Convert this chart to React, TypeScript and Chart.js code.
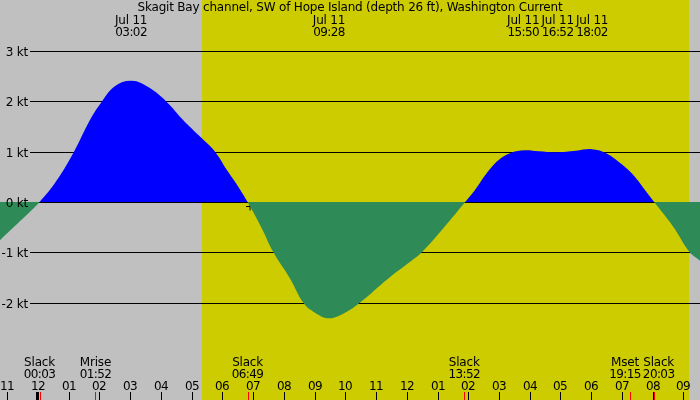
import React, { useEffect, useRef } from "react";
import { Chart, registerables } from "chart.js";

Chart.register(...registerables);

// ---- data (hours since midnight Jul 11, current in knots) ----
const hours = [
  -1.24, -0.6, 0.05, 0.6, 1.17, 1.69, 2.07, 2.5, 3.05, 3.6, 4.19, 4.72, 5.27,
  5.76, 6.14, 6.5, 6.82, 7.28, 7.66, 8.2, 8.63, 8.96, 9.47, 10.05, 10.48, 11.4,
  12.11, 12.49, 13.19, 13.9, 14.22, 14.6, 14.98, 15.4, 15.83, 16.3, 16.87, 17.5,
  18.03, 18.45, 18.83, 19.32, 19.75, 20.05, 20.67, 21.21, 21.55,
];
const speeds = [
  -0.76, -0.39, 0, 0.42, 1.0, 1.63, 1.99, 2.3, 2.41, 2.28, 1.99, 1.63, 1.3,
  1.0, 0.64, 0.32, 0, -0.52, -1.0, -1.52, -2.0, -2.18, -2.31, -2.18, -2.0, -1.52,
  -1.19, -1.0, -0.52, 0, 0.24, 0.57, 0.83, 0.98, 1.03, 1.01, 0.99, 1.02,
  1.05, 0.98, 0.83, 0.57, 0.24, 0, -0.49, -1.0, -1.17,
];

const title =
  "Skagit Bay channel, SW of Hope Island (depth 26 ft), Washington Current";

const speedTicks = [3, 2, 1, 0, -1, -2];
const speedTickLabels = ["3 kt", "2 kt", "1 kt", "0 kt", "-1 kt", "-2 kt"];

const hourTickValues = [
  -1, 0, 1, 2, 3, 4, 5, 6, 7, 8, 9, 10, 11, 12, 13, 14, 15, 16, 17, 18, 19, 20, 21,
];
const hourTickLabels = [
  "11", "12", "01", "02", "03", "04", "05", "06", "07", "08", "09", "10", "11",
  "12", "01", "02", "03", "04", "05", "06", "07", "08", "09",
];
const dayBoundaries = [0];

const peakTimes = [3.03, 9.47, 15.83, 16.87, 18.03];
const peakDates = ["Jul 11", "Jul 11", "Jul 11", "Jul 11", "Jul 11"];
const peakLabels = ["03:02", "09:28", "15:50", "16:52", "18:02"];

const eventTimes = [0.05, 1.87, 6.82, 13.87, 19.25, 20.05];
const eventNames = ["Slack", "Mrise", "Slack", "Slack", "Mset", "Slack"];
const eventLabels = ["00:03", "01:52", "06:49", "13:52", "19:15", "20:03"];

const daylight = [5.34, 21.18]; // sunrise, sunset
const crossHour = [6.9];
const crossSpeed = [-0.09];

const xMin = -1.237;
const xMax = 21.542;
const pxPerKt = 50.3;
const zeroRow = 202;
const canvasH = 400;

const FONT = '12px "DejaVu Sans"';

function spread(centers: number[], widths: number[], gap: number) {
  const c = centers.slice();
  for (let iter = 0; iter < 50; iter++) {
    let moved = false;
    for (let i = 0; i < c.length - 1; i++) {
      const need = (widths[i] + widths[i + 1]) / 2 + gap;
      const d = c[i + 1] - c[i];
      if (d < need - 0.01) {
        const s = (need - d) / 2;
        c[i] -= s;
        c[i + 1] += s;
        moved = true;
      }
    }
    if (!moved) break;
  }
  return c;
}

function setSpacing(ctx: any, s: string) {
  ctx.letterSpacing = /^[0-9:]+$/.test(s) ? "-0.6px" : "-0.2px";
}

function text(ctx: any, s: string, x: number, y: number) {
  setSpacing(ctx, s);
  ctx.fillText(s, x, y);
}

function width(ctx: any, s: string) {
  setSpacing(ctx, s);
  return ctx.measureText(s).width;
}

const tidePlugin = {
  id: "tideDecor",
  beforeDraw(chart: any) {
    const { ctx } = chart;
    const xs = chart.scales.x;
    ctx.save();
    ctx.fillStyle = "#c0c0c0";
    ctx.fillRect(0, 0, chart.width, chart.height);
    const x0 = Math.round(xs.getPixelForValue(daylight[0]));
    const x1 = Math.round(xs.getPixelForValue(daylight[1]));
    ctx.fillStyle = "#cccc00";
    ctx.fillRect(x0, 0, x1 - x0, chart.height);
    ctx.restore();
  },
  beforeDatasetsDraw(chart: any) {
    const { ctx } = chart;
    const ys = chart.scales.y;
    ctx.save();
    ctx.fillStyle = "#000";
    speedTicks.forEach((v) => {
      const y = Math.round(ys.getPixelForValue(v));
      ctx.fillRect(30, y, chart.width - 30, 1);
    });
    ctx.restore();
  },
  afterDatasetsDraw(chart: any) {
    const { ctx } = chart;
    const xs = chart.scales.x;
    const ys = chart.scales.y;
    ctx.save();
    ctx.font = FONT;
    ctx.fillStyle = "#000";
    ctx.textBaseline = "alphabetic";

    // title
    ctx.textAlign = "center";
    text(ctx, title, chart.width / 2, 11);

    // speed labels
    ctx.textAlign = "right";
    speedTicks.forEach((v, i) => {
      const y = Math.round(ys.getPixelForValue(v));
      text(ctx, speedTickLabels[i], 28, y + 5);
    });

    // peak labels (top)
    ctx.textAlign = "center";
    const pw = peakTimes.map((_, i) =>
      Math.max(width(ctx, peakDates[i]), width(ctx, peakLabels[i]))
    );
    const pc = spread(peakTimes.map((t) => xs.getPixelForValue(t)), pw, 2);
    pc.forEach((x, i) => {
      text(ctx, peakDates[i], x, 24);
      text(ctx, peakLabels[i], x, 36);
    });

    // event labels (bottom)
    const ew = eventTimes.map((_, i) =>
      Math.max(width(ctx, eventNames[i]), width(ctx, eventLabels[i]))
    );
    const ec = spread(eventTimes.map((t) => xs.getPixelForValue(t)), ew, 2);
    ec.forEach((x, i) => {
      text(ctx, eventNames[i], x, 366);
      text(ctx, eventLabels[i], x, 378);
    });

    // hour labels and ticks
    hourTickValues.forEach((h, i) => {
      const x = Math.round(xs.getPixelForValue(h));
      text(ctx, hourTickLabels[i], x, 390);
      if (dayBoundaries.includes(h)) {
        ctx.fillRect(x - 2, 392, 3, 8);
      } else {
        ctx.fillRect(x, 392, 1, 8);
      }
    });

    // event ticks
    ctx.fillStyle = "#ff0000";
    eventTimes.forEach((t) => {
      const x = Math.round(xs.getPixelForValue(t));
      ctx.fillRect(x, 392, 1, 8);
    });
    ctx.restore();
  },
};

export default function App() {
  const ref = useRef<HTMLCanvasElement | null>(null);
  useEffect(() => {
    const canvas = ref.current;
    if (!canvas) return;
    const chart = new Chart(canvas, {
      type: "line",
      data: {
        datasets: [
          {
            type: "line",
            data: hours.map((h, i) => ({ x: h, y: speeds[i] })),
            borderWidth: 0,
            borderColor: "rgba(0,0,0,0)",
            pointRadius: 0,
            tension: 0.4,
            fill: { target: "origin", above: "#0000ff", below: "#2e8b57" },
          } as any,
          {
            type: "scatter",
            data: crossHour.map((h, i) => ({ x: h, y: crossSpeed[i] })),
            pointStyle: "cross",
            pointRadius: 4,
            borderColor: "#000",
            backgroundColor: "#000",
            borderWidth: 1,
            showLine: false,
          } as any,
        ],
      },
      options: {
        animation: false,
        responsive: false,
        devicePixelRatio: 1,
        events: [],
        layout: { padding: 0, autoPadding: false },
        plugins: { legend: { display: false }, tooltip: { enabled: false }, title: { display: false } },
        scales: {
          x: { type: "linear", min: xMin, max: xMax, display: false },
          y: {
            type: "linear",
            min: -(canvasH - zeroRow) / pxPerKt,
            max: zeroRow / pxPerKt,
            display: false,
          },
        },
      },
      plugins: [tidePlugin],
    });
    return () => chart.destroy();
  }, []);
  return (
    <div style={{ position: "fixed", left: 0, top: 0, width: 700, height: 400 }}>
      <canvas ref={ref} width={700} height={400} style={{ display: "block" }} />
    </div>
  );
}
